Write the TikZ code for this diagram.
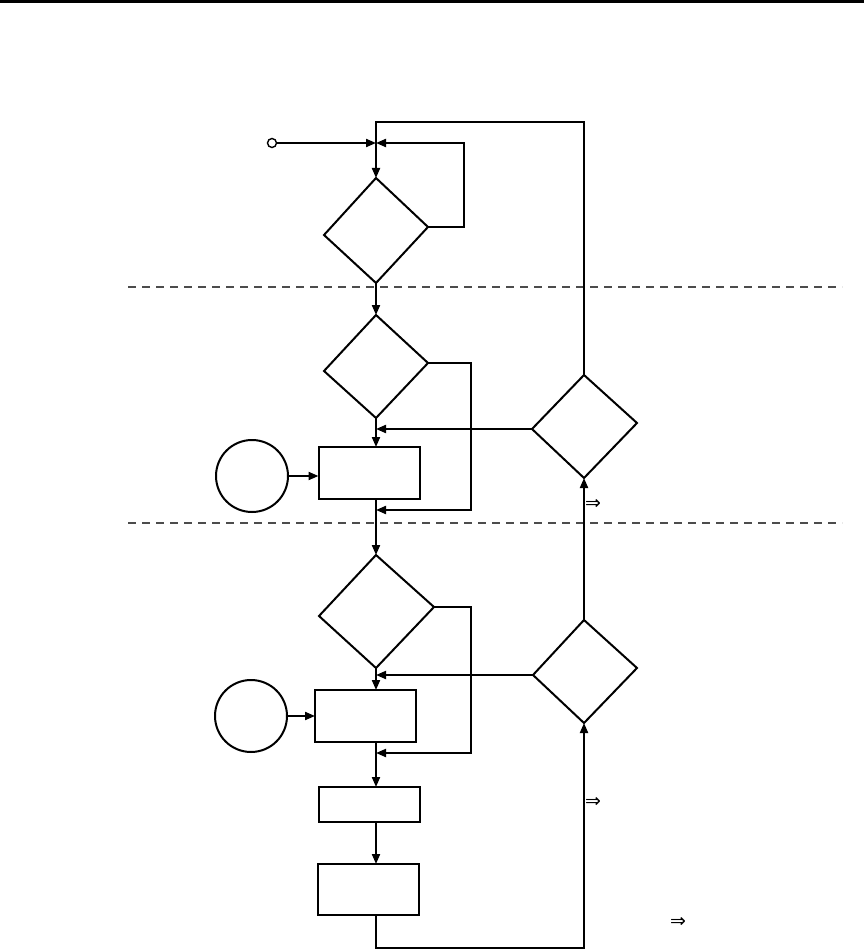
\documentclass[tikz,border=0pt]{standalone}
\usepackage{fontspec}
\newfontfamily\symfont{DejaVu Sans}
\usetikzlibrary{arrows.meta}
\begin{document}
\begin{tikzpicture}[x=1pt,y=-1pt,line width=2pt,
  flow/.style={-{Triangle[length=10pt,width=8pt]}},
  shp/.style={draw,line width=2pt,line join=miter},
  box/.style={draw,line width=2pt,inner sep=0pt,outer sep=0pt,minimum width=101pt},
  conn/.style={draw,circle,line width=2pt,inner sep=0pt,outer sep=0pt,minimum size=72pt},
  sepline/.style={line width=1.5pt,dash pattern=on 8pt off 6pt,gray!60!black},
  impl/.style={inner sep=0pt,font=\symfont\fontsize{19}{19}\selectfont}]
\useasboundingbox (0,0) rectangle (864,949);
\fill (0,0) rectangle (864,3);
% separators
\draw[sepline] (128,287) coordinate (sa) -- (842,287) coordinate (sb);
\draw[sepline] (128,523) coordinate (sc) -- (842,523) coordinate (sd);
% diamonds
\coordinate (d1t) at (376,178); \coordinate (d1r) at (428,227); \coordinate (d1b) at (376,283); \coordinate (d1l) at (324,235);
\coordinate (d2t) at (376,315); \coordinate (d2r) at (428,363); \coordinate (d2b) at (376,418); \coordinate (d2l) at (324,371);
\coordinate (d3t) at (584,375); \coordinate (d3r) at (637,423); \coordinate (d3b) at (584,478); \coordinate (d3l) at (532,429);
\coordinate (d4t) at (376,555); \coordinate (d4r) at (434,607); \coordinate (d4b) at (376,668); \coordinate (d4l) at (319,616);
\coordinate (d5t) at (584,620); \coordinate (d5r) at (637,668); \coordinate (d5b) at (584,723); \coordinate (d5l) at (533,675);
\foreach \d in {d1,d2,d3,d4,d5}{\draw[shp] (\d t) -- (\d r) -- (\d b) -- (\d l) -- cycle;}
% boxes
\node[box,minimum height=52pt] (b1) at (369,473) {};
\node[box,minimum height=52pt] (b2) at (365.5,716) {};
\node[box,minimum height=35pt] (b3) at (369.5,804.5) {};
\node[box,minimum height=51pt] (b4) at (368.5,889.5) {};
% circles
\node[conn] (c1) at (252,476) {};
\node[conn] (c2) at (251,716) {};
\node[draw,circle,line width=1.4pt,minimum size=9pt,inner sep=0pt] (s) at (272,143) {};
% junctions
\coordinate (j1) at (376,143);
\coordinate (j2) at (376,429);
\coordinate (j3) at (376,510);
\coordinate (j4) at (376,675);
\coordinate (j5) at (376,753);
% connectors
\draw[flow] (s) -- (j1);
\draw[flow] (d3t) -- (584,122) -- (376,122) -- (d1t);
\draw[flow] (d1r) -- (464,227) -- (464,143) -- (j1);
\draw[flow] (d1b) -- (d2t);
\draw[flow] (d2b) -- (d2b |- b1.north);
\draw[flow] (d3l) -- (j2);
\draw[flow] (d2r) -- (471,363) -- (471,510) -- (j3);
\draw[flow] (b1.south -| d2b) -- (d4t);
\draw[flow] (c1) -- (c1.east -| b1.west);
\draw[flow] (d5t) -- (d3b);
\draw[flow] (d4r) -- (471,607) -- (471,753) -- (j5);
\draw[flow] (d5l) -- (j4);
\draw[flow] (d4b) -- (d4b |- b2.north);
\draw[flow] (c2) -- (c2.east -| b2.west);
\draw (b2.south -| d4b) -- (j5);
\draw[flow] (j5) -- (j5 |- b3.north);
\draw[flow] (b3.south -| d4b) -- (d4b |- b4.north);
\draw[flow] (b4.south -| d4b) -- (376,948) -- (584,948) -- (d5b);
% implication marks
\node[impl,anchor=west] (i1) at (584,504) {⇒};
\node[impl,anchor=west] (i2) at (584,802) {⇒};
\node[impl,anchor=west] (i3) at (669,922) {⇒};
\end{tikzpicture}
\end{document}
